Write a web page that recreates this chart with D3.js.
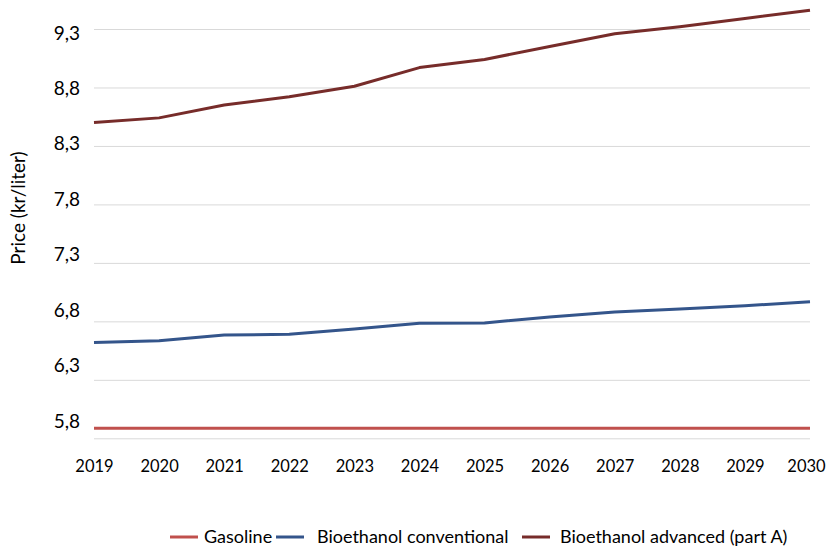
<!DOCTYPE html>
<html>
<head>
<meta charset="utf-8">
<script src="https://cdn.jsdelivr.net/npm/d3@7"></script>
<style>
    body { margin: 0; background: #fff; }
    text { font-family: Lato, "Open Sans", sans-serif; fill: #000; }
</style>
</head>
<body>
<div id="container"></div>
<script>

// chart data
var years = [2019, 2020, 2021, 2022, 2023, 2024, 2025, 2026, 2027, 2028, 2029, 2030];
var gasoline = [5.886, 5.886, 5.886, 5.886, 5.886, 5.886, 5.886, 5.886, 5.886, 5.886, 5.886, 5.886];
var bioConventional = [6.62, 6.635, 6.684, 6.689, 6.735, 6.783, 6.786, 6.838, 6.880, 6.906, 6.934, 6.968];
var bioAdvanced = [8.50, 8.54, 8.65, 8.72, 8.81, 8.97, 9.04, 9.15, 9.26, 9.32, 9.39, 9.46];
var yTicks = [5.8, 6.3, 6.8, 7.3, 7.8, 8.3, 8.8, 9.3];

var seriesNames = ["Gasoline", "Bioethanol conventional", "Bioethanol advanced (part A)"];
var seriesColors = ["#c0504d", "#34558b", "#772c2a"];

var W = 828, H = 547;
var m = { left: 94, right: 810, top: 29, bottom: 438.3 };

var svg = d3.select("#container").append("svg")
    .attr("width", W)
    .attr("height", H);

var x = d3.scalePoint()
    .domain(years)
    .range([m.left, m.right]);

var y = d3.scaleLinear()
    .domain([5.8, 9.3])
    .range([m.bottom, m.top]);

// the tick labels in the original drift a little from the gridlines
var yLabel = d3.scaleLinear()
    .domain([5.8, 9.3])
    .range([421, 33]);

// gridlines
var grid = svg.append("g")
    .attr("transform", "translate(" + m.left + ",0)")
    .call(d3.axisLeft(y).tickValues(yTicks).tickSize(-(m.right - m.left)).tickFormat(""));
grid.select(".domain").remove();
grid.selectAll(".tick line").attr("stroke", "#d9d9d9").attr("stroke-width", 1);

// y labels
var yAxis = svg.append("g")
    .attr("transform", "translate(80,0)")
    .call(d3.axisLeft(yLabel).tickValues(yTicks).tickSize(0)
          .tickFormat(function(d){ return d3.format(".1f")(d).replace(".", ","); }));
yAxis.select(".domain").remove();
yAxis.selectAll("text")
    .attr("x", 0)
    .style("font-size", "19px")
    .style("font-family", "Lato, sans-serif");

// x labels
var xAxis = svg.append("g")
    .attr("transform", "translate(0,460)")
    .call(d3.axisBottom(x).tickSize(0));
xAxis.select(".domain").remove();
xAxis.selectAll("text")
    .attr("y", 0)
    .attr("dy", "0.71em")
    .attr("dx", function(d){ return d == 2030 ? -4 : 0; }) // keep last one inside
    .style("font-size", "16.5px")
    .style("font-family", "Lato, sans-serif");

svg.append("text")
    .attr("transform", "translate(25,208) rotate(-90)")
    .attr("text-anchor", "middle")
    .style("font-size", "19px")
    .text("Price (kr/liter)");

var line = d3.line()
    .x(function(d, i){ return x(years[i]); })
    .y(function(d){ return y(d); });

[gasoline, bioConventional, bioAdvanced].forEach(function(values, i){
    svg.append("path")
        .datum(values)
        .attr("d", line)
        .attr("fill", "none")
        .attr("stroke", seriesColors[i])
        .attr("stroke-width", 3)
        .attr("stroke-linejoin", "round");
});

// legend
var legendX = [170, 276, 522];
var legendText = [204, 317, 560];
var legend = svg.append("g");
seriesNames.forEach(function(name, i){
    legend.append("line")
        .attr("x1", legendX[i]).attr("x2", legendX[i] + 28)
        .attr("y1", 537).attr("y2", 537)
        .attr("stroke", seriesColors[i])
        .attr("stroke-width", 3);
    legend.append("text")
        .attr("x", legendText[i])
        .attr("y", 537)
        .attr("dy", "0.35em")
        .style("font-size", "18px")
        .text(name);
});

</script>
</body>
</html>
